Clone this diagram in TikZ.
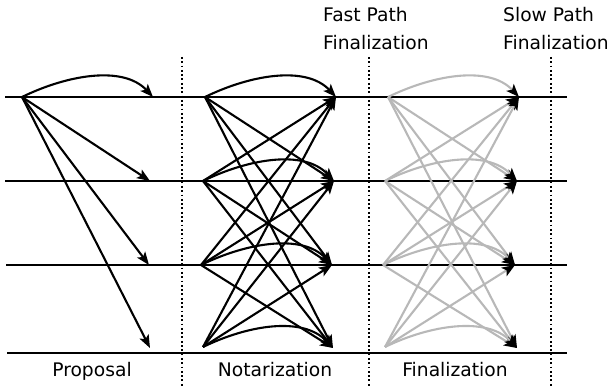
\documentclass[tikz,border=0pt]{standalone}
\usepackage{fontspec}
\setmainfont{DejaVu Sans}
\usetikzlibrary{arrows.meta}
\begin{document}
\begin{tikzpicture}[x=1pt,y=-1pt,
  timeline/.style={line width=2.4pt},
  divider/.style={line width=1.9pt, dash pattern=on 1.8pt off 2.5pt},
  msg/.style={line width=2.1pt, -{Stealth[length=13pt,width=10pt,inset=3pt]}},
  faded/.style={line width=2.1pt, draw=black!28, -{Stealth[length=13pt,width=10pt,inset=3pt,black]}},
  lbl/.style={font=\fontsize{18.7}{22}\selectfont, inner sep=0pt}
]
\useasboundingbox (0,0) rectangle (611,390);

% timelines
\coordinate (l1a) at (5,97);  \coordinate (l1b) at (567,97);
\coordinate (l2a) at (5,181); \coordinate (l2b) at (567,181);
\coordinate (l3a) at (6,265); \coordinate (l3b) at (567,265);
\coordinate (l4a) at (7,353); \coordinate (l4b) at (567,353);
\foreach \k in {1,...,4}{\draw[timeline] (l\k a) -- (l\k b);}

% dividers
\coordinate (d1a) at (182,57); \coordinate (d1b) at (182,388);
\coordinate (d2a) at (369,57); \coordinate (d2b) at (369,388);
\coordinate (d3a) at (551,57); \coordinate (d3b) at (551,388);
\foreach \k in {1,...,3}{\draw[divider] (d\k a) -- (d\k b);}

% proposal
\coordinate (p0) at (22,97);
\coordinate (pt1) at (153,97);
\coordinate (pt2) at (150,181);
\coordinate (pt3) at (149,265);
\coordinate (pt4) at (150,348);
\draw[msg] (p0) .. controls +(45,-22) and +(-30,-32) .. (pt1);
\foreach \j in {2,3,4}{\draw[msg] (p0) -- (pt\j);}

% notarization
\coordinate (ns1) at (205,97);  \coordinate (nt1) at (336,97);
\coordinate (ns2) at (203,181); \coordinate (nt2) at (334,181);
\coordinate (ns3) at (201,265); \coordinate (nt3) at (332,265);
\coordinate (ns4) at (203,347); \coordinate (nt4) at (333,348);
\foreach \i in {1,...,4}{
  \foreach \j in {1,...,4}{
    \ifnum\i=\j
      \draw[msg] (ns\i) .. controls +(45,-22) and +(-30,-32) .. (nt\j);
    \else
      \draw[msg] (ns\i) -- (nt\j);
    \fi
  }
}

% finalization
\coordinate (fs1) at (388,97);  \coordinate (ft1) at (519,97);
\coordinate (fs2) at (385,181); \coordinate (ft2) at (517,181);
\coordinate (fs3) at (383,265); \coordinate (ft3) at (515,265);
\coordinate (fs4) at (385,347); \coordinate (ft4) at (517,348);
\foreach \i in {1,...,4}{
  \foreach \j in {1,...,4}{
    \ifnum\i=\j
      \draw[faded] (fs\i) .. controls +(45,-22) and +(-30,-32) .. (ft\j);
    \else
      \draw[faded] (fs\i) -- (ft\j);
    \fi
  }
}

% labels
\node[lbl, anchor=base] (proposal) at (92,377) {Proposal};
\node[lbl, anchor=base] (notarization) at (275,377) {Notarization};
\node[lbl, anchor=base] (finalization) at (455,377) {Finalization};
\node[lbl, anchor=base west] (fast1) at (323,22) {Fast Path};
\node[lbl, anchor=base west] (fast2) at (323,50) {Finalization};
\node[lbl, anchor=base west] (slow1) at (503,22) {Slow Path};
\node[lbl, anchor=base west] (slow2) at (503,50) {Finalization};
\end{tikzpicture}
\end{document}
